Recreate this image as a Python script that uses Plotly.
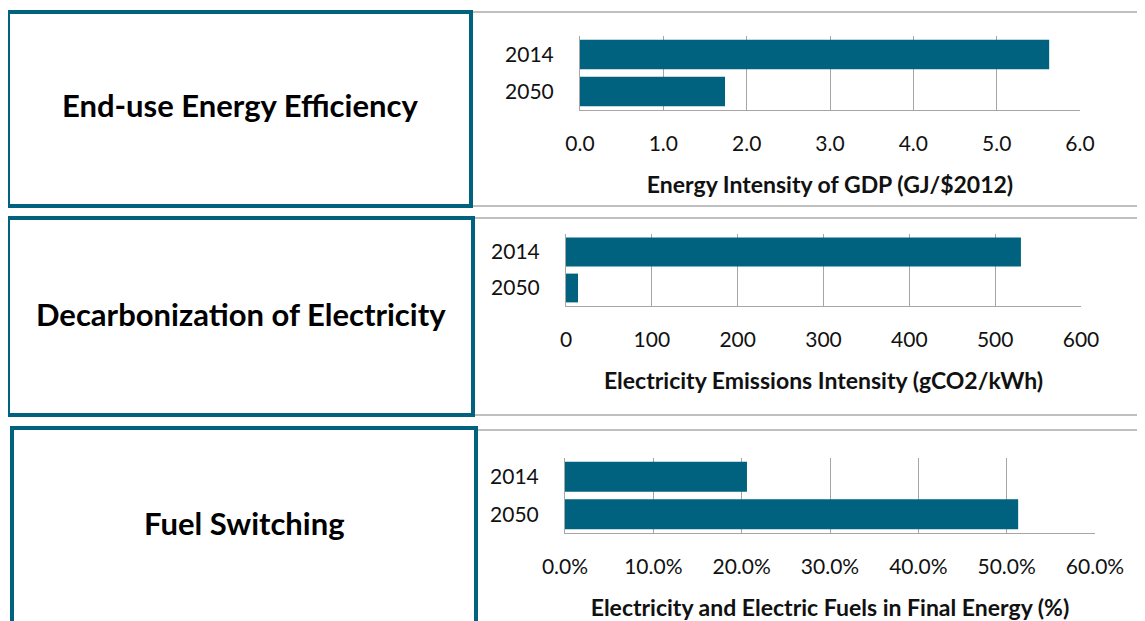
import plotly.graph_objects as go

W, H = 1145, 621
# the page body adds an 8px margin around the figure
OX, OY = 8, 8

# data
years = ["2014", "2050"]
energy_intensity = [5.63, 1.74]      # GJ/$2012
emissions_intensity = [530, 14]      # gCO2/kWh
electric_share = [0.206, 0.513]      # share of final energy

row_titles = ["End-use Energy Efficiency",
              "Decarbonization of Electricity",
              "Fuel Switching"]
axis_titles = ["Energy Intensity of GDP (GJ/$2012)",
               "Electricity Emissions Intensity (gCO2/kWh)",
               "Electricity and Electric Fuels in Final Energy (%)"]

TEAL = "#00627F"
GRID = "#A6A6A6"
FONT = "Lato"


def px(x):
    return (x - OX) / W


def py(y):
    return 1 - (y - OY) / H


fig = go.Figure()

series = [energy_intensity, emissions_intensity, electric_share]
# plot areas in pixels: (left, right, top, bottom)
areas = [(580, 1080, 36, 110), (566, 1081, 234, 306), (565, 1095, 458, 533)]
ranges = [[0, 6], [0, 600], [0, 0.6]]
dticks = [1, 100, 0.1]
formats = [".1f", "d", ".1%"]

layout_axes = {}
for i, vals in enumerate(series):
    n = "" if i == 0 else str(i + 1)
    fig.add_trace(go.Bar(x=vals, y=years, orientation="h", marker_color=TEAL,
                         marker_line_width=0, xaxis="x" + n, yaxis="y" + n,
                         showlegend=False))
    l, r, t, b = areas[i]
    layout_axes["xaxis" + n] = dict(
        domain=[px(l), px(r)], anchor="y" + n, range=ranges[i], dtick=dticks[i],
        tickformat=formats[i], showgrid=True, gridcolor=GRID, gridwidth=1,
        zeroline=False, showline=True, linecolor=GRID, linewidth=1,
        ticks="", ticklabelstandoff=15, automargin=False,
        tickfont=dict(family=FONT, size=21, color="#111"),
        title=dict(text=axis_titles[i], standoff=22,
                   font=dict(family=FONT, size=23, color="#111", weight="bold")),
        fixedrange=True)
    layout_axes["yaxis" + n] = dict(
        domain=[py(b), py(t)], anchor="x" + n, type="category",
        categoryorder="array", categoryarray=years, autorange="reversed",
        showgrid=False, zeroline=False, showline=True, linecolor=GRID,
        linewidth=1, ticks="", ticklabelstandoff=21, automargin=False,
        tickfont=dict(family=FONT, size=21, color="#111"), fixedrange=True)

fig.update_layout(bargap=0.2, **layout_axes)

# gray panels behind the charts and teal boxes on the left
panels = [(470, 12, 1160, 206), (472, 218, 1160, 415), (476, 430, 1160, 650)]
boxes = [(8, 12, 471, 206), (8, 218, 473, 415), (12, 428, 476, 650)]
shapes = []
for (x0, y0, x1, y1) in panels:
    shapes.append(dict(type="rect", xref="paper", yref="paper",
                       x0=px(x0), x1=px(x1), y0=py(y1), y1=py(y0),
                       line=dict(color="#BFBFBF", width=2), layer="below"))
for (x0, y0, x1, y1) in boxes:
    shapes.append(dict(type="rect", xref="paper", yref="paper",
                       x0=px(x0), x1=px(x1), y0=py(y1), y1=py(y0),
                       line=dict(color=TEAL, width=4), fillcolor="white",
                       layer="below"))

annotations = []
for title, (x0, y0, x1, y1), cy in zip(row_titles, boxes, [105, 314, 523]):
    annotations.append(dict(text=title, xref="paper", yref="paper",
                            x=px((x0 + x1) / 2), y=py(cy), showarrow=False,
                            xanchor="center", yanchor="middle",
                            font=dict(family=FONT, size=31, color="#000",
                                      weight="bold")))

fig.update_layout(shapes=shapes, annotations=annotations,
                  width=W, height=H, margin=dict(l=0, r=0, t=0, b=0),
                  paper_bgcolor="white", plot_bgcolor="rgba(0,0,0,0)",
                  font=dict(family=FONT))

fig.write_html("out.html")
